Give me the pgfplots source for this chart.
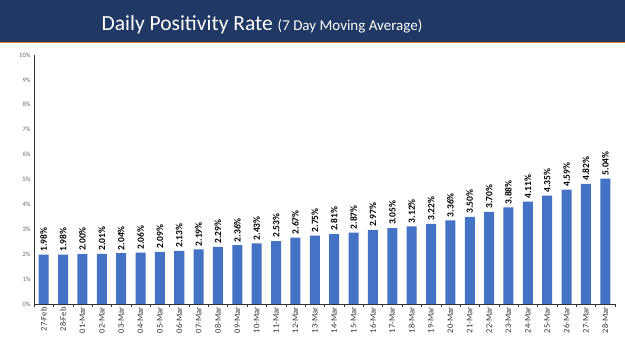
\documentclass[border=0pt]{standalone}
\usepackage{pgfplots}
\pgfplotsset{compat=1.18}
\usepackage{fontspec}
\setmainfont{Carlito}
\definecolor{navy}{HTML}{1F3864}
\definecolor{barblue}{HTML}{4472C4}
\definecolor{orangeline}{HTML}{ED7D31}
\begin{document}
\begin{tikzpicture}
\fill[white] (0pt,0pt) rectangle (625pt,351pt);
\useasboundingbox (0pt,0pt) rectangle (625pt,351pt);
\fill[navy] (0pt,309pt) rectangle (625pt,351pt);
\fill[orangeline] (0pt,307.5pt) rectangle (625pt,309pt);
\node[white,anchor=base] at (262pt,320pt) {\fontsize{21.5}{24}\selectfont Daily Positivity Rate \fontsize{15}{18}\selectfont(7 Day Moving Average)};
\begin{axis}[
  at={(34pt,47pt)}, anchor=south west,
  scale only axis, width=581pt, height=249pt,
  xmin=-0.5, xmax=29.5, ymin=0, ymax=10,
  axis lines*=left,
  axis line style={black!80, line width=0.8pt},
  ytick={0,1,...,10},
  yticklabel={\pgfmathprintnumber{\tick}\%},
  yticklabel style={font=\fontsize{6.5}{7}\selectfont, text=black!60},
  /pgf/number format/assume math mode=true,
  xtick={0,...,29},
  xticklabels={27-Feb,28-Feb,01-Mar,02-Mar,03-Mar,04-Mar,05-Mar,06-Mar,07-Mar,08-Mar,09-Mar,10-Mar,11-Mar,12-Mar,13-Mar,14-Mar,15-Mar,16-Mar,17-Mar,18-Mar,19-Mar,20-Mar,21-Mar,22-Mar,23-Mar,24-Mar,25-Mar,26-Mar,27-Mar,28-Mar},
  xticklabel style={rotate=90, anchor=east, font=\fontsize{8.5}{9}\selectfont, text=black!80},
  major tick length=0pt,
  minor xtick={-0.5,0.5,...,29.5},
  minor tick length=3pt,
  every tick/.style={black!80},
  xtick align=outside,
  ybar, bar width=10pt, bar shift=0pt,
  nodes near coords={\pgfmathprintnumber[fixed,precision=2,fixed zerofill]{\pgfplotspointmeta}\%},
  nodes near coords style={rotate=90, anchor=west, font=\bfseries\fontsize{9.5}{10}\selectfont, text=black, inner sep=3pt},
  clip=false,
]
\addplot[fill=barblue, draw=none] coordinates {
(0,1.98) (1,1.98) (2,2.00) (3,2.01) (4,2.04) (5,2.06) (6,2.09) (7,2.13) (8,2.19) (9,2.29)
(10,2.36) (11,2.43) (12,2.53) (13,2.67) (14,2.75) (15,2.81) (16,2.87) (17,2.97) (18,3.05) (19,3.12)
(20,3.22) (21,3.36) (22,3.50) (23,3.70) (24,3.88) (25,4.11) (26,4.35) (27,4.59) (28,4.82) (29,5.04)
};
\end{axis}
\end{tikzpicture}
\end{document}
